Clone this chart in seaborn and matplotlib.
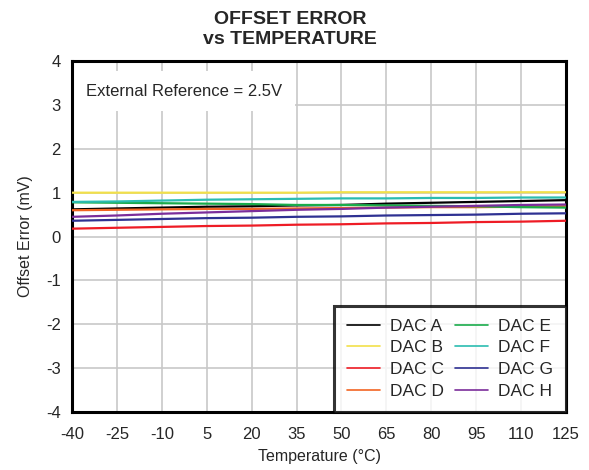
import matplotlib
matplotlib.use("Agg")
import matplotlib.pyplot as plt
import pandas as pd
import seaborn as sns

# Dados (offset em mV)
temps = [-40, -25, -10, 5, 20, 35, 50, 65, 80, 95, 110, 125]
dac_a = [0.62, 0.64, 0.66, 0.68, 0.69, 0.71, 0.72, 0.75, 0.77, 0.79, 0.81, 0.83]
dac_b = [1.00, 1.00, 1.00, 1.00, 1.00, 1.00, 1.01, 1.01, 1.01, 1.01, 1.01, 1.01]
dac_c = [0.18, 0.20, 0.22, 0.24, 0.25, 0.27, 0.28, 0.30, 0.31, 0.33, 0.34, 0.36]
dac_d = [0.60, 0.61, 0.62, 0.63, 0.63, 0.64, 0.65, 0.66, 0.67, 0.67, 0.68, 0.69]
dac_e = [0.78, 0.77, 0.76, 0.75, 0.74, 0.72, 0.72, 0.71, 0.70, 0.69, 0.67, 0.66]
dac_f = [0.79, 0.80, 0.82, 0.84, 0.85, 0.86, 0.87, 0.87, 0.88, 0.88, 0.89, 0.89]
dac_g = [0.36, 0.38, 0.40, 0.42, 0.43, 0.45, 0.46, 0.48, 0.49, 0.50, 0.52, 0.53]
dac_h = [0.45, 0.48, 0.52, 0.55, 0.58, 0.61, 0.63, 0.66, 0.68, 0.70, 0.72, 0.73]

series = {
    "DAC A": dac_a, "DAC B": dac_b, "DAC C": dac_c, "DAC D": dac_d,
    "DAC E": dac_e, "DAC F": dac_f, "DAC G": dac_g, "DAC H": dac_h,
}
cores = ["#000000", "#f2e04a", "#ee1c25", "#f26522",
         "#1aab4b", "#2bbcb0", "#2e3192", "#7b2d9b"]

df = pd.DataFrame(
    [(t, nome, v) for nome, vals in series.items() for t, v in zip(temps, vals)],
    columns=["temp", "dac", "offset"],
)

sns.set_style("white")
plt.rcParams["font.family"] = ["Liberation Sans", "DejaVu Sans"]
plt.rcParams["axes.unicode_minus"] = False

fig = plt.figure(figsize=(5.89, 4.70), dpi=100)
ax = fig.add_axes([0.1222, 0.1234, 0.8388, 0.7466])

sns.lineplot(data=df, x="temp", y="offset", hue="dac", palette=cores,
             linewidth=1.6, ax=ax, zorder=3)

ax.set_xlim(-40, 125)
ax.set_ylim(-4, 4)
ax.set_xticks(temps)
ax.set_yticks(range(-4, 5))
ax.tick_params(labelsize=12, length=0)
ax.tick_params(axis="y", pad=8)
ax.tick_params(axis="x", pad=11)
ax.grid(True, color="#c8c8c8", linewidth=1.2)
ax.set_axisbelow(True)
for s in ax.spines.values():
    s.set_linewidth(2.2)
    s.set_color("black")

ax.set_xlabel("Temperature (°C)", fontsize=11.5, labelpad=5)
ax.set_ylabel("Offset Error (mV)", fontsize=11.5, labelpad=9)
fig.text(0.492, 0.937, "OFFSET ERROR\nvs TEMPERATURE", fontsize=14,
         fontweight="bold", ha="center", va="center", linespacing=1.2)

ax.text(-35.3, 3.31, "External Reference = 2.5V", fontsize=12, va="center",
        zorder=2.4, bbox=dict(facecolor="white", edgecolor="none", pad=9))

leg = ax.legend(loc="lower right", ncol=2, fontsize=12.5, frameon=True,
                fancybox=False, handlelength=1.9, columnspacing=0.6,
                labelspacing=0.38, borderpad=0.75, handletextpad=0.6,
                borderaxespad=0)
leg.get_frame().set_edgecolor("black")
leg.get_frame().set_linewidth(2.2)
for ln in leg.get_lines():
    ln.set_linewidth(1.2)

fig.savefig("out.png", dpi=100)
